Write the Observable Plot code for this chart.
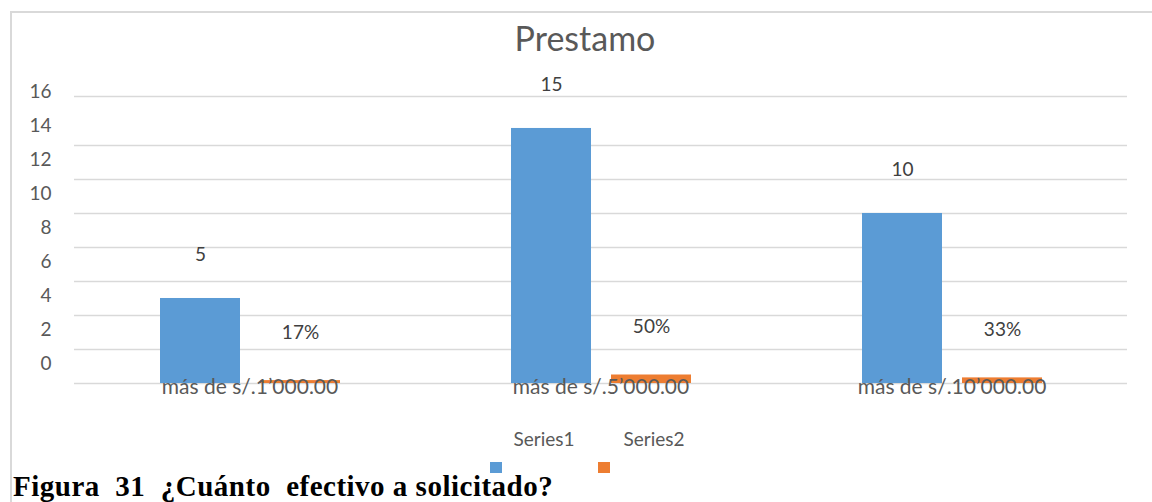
<!DOCTYPE html>
<html>
<head>
<meta charset="utf-8">
<script src="https://cdn.jsdelivr.net/npm/d3@7"></script>
<script src="https://cdn.jsdelivr.net/npm/@observablehq/plot@0.6"></script>
<style>
  html, body { margin: 0; padding: 0; background: #fff; }
  #wrap { position: relative; width: 1152px; height: 502px; overflow: hidden; font-family: Lato, "Open Sans", sans-serif; }
  #frame { position: absolute; left: 10px; top: 11px; width: 1160px; height: 520px; border: 2px solid #d9d9d9; box-sizing: border-box; }
  #title { position: absolute; left: 435px; width: 300px; top: 21px; text-align: center; font-size: 34px; line-height: 34px; color: #595959; }
  #plot { position: absolute; left: 0; top: 0; }
  .legtext { position: absolute; font-size: 19px; line-height: 19px; color: #595959; transform: translateX(-50%); white-space: nowrap; }
  .legsw { position: absolute; width: 12px; height: 11px; }
  #caption { position: absolute; left: 13px; top: 472px; font-family: "Liberation Serif", "Times New Roman", serif; font-weight: bold; font-size: 29px; line-height: 29px; letter-spacing: 0.5px; color: #000; white-space: pre; }
</style>
</head>
<body>
<div id="wrap">
  <div id="frame"></div>
  <div id="plot"></div>
  <div id="title">Prestamo</div>
  <div id="caption">Figura  31  ¿Cuánto  efectivo a solicitado?</div>
</div>
<script>
// ---- data ----
const categories = ["más de s/.1’000.00", "más de s/.5’000.00", "más de s/.10’000.00"];
const series = ["Series1", "Series2"];
const counts = [5, 15, 10];
const shares = [0.17, 0.50, 0.33];
const shareLabels = ["17%", "50%", "33%"];
const yTickValues = [0, 2, 4, 6, 8, 10, 12, 14, 16];
const gridValues = [0, 2, 4, 6, 8, 10, 12, 14];
const yMax = 16.88;
const colors = ["#5b9bd5", "#ed7d31"];

const rows = [];
categories.forEach((c, i) => {
  rows.push({category: c, series: series[0], value: counts[i], label: String(counts[i])});
  rows.push({category: c, series: series[1], value: shares[i], label: shareLabels[i]});
});

const chart = Plot.plot({
  width: 1152,
  height: 502,
  marginLeft: 74,
  marginRight: 25,
  marginTop: 96,
  marginBottom: 119,
  style: {fontFamily: "Lato, 'Open Sans', sans-serif", background: "transparent"},
  fx: {domain: categories, padding: 0, label: null},
  x: {domain: series, paddingInner: 0.2, paddingOuter: 0.855, axis: null},
  y: {domain: [0, yMax], axis: null},
  color: {domain: series, range: colors},
  marks: [
    Plot.ruleY(gridValues.concat([yMax]), {stroke: "#d9d9d9", strokeWidth: 1.5}),
    Plot.barY(rows, {fx: "category", x: "series", y: "value", fill: "series"}),
    Plot.text(rows.filter(d => d.series === series[0]), {fx: "category", x: "series", y: "value", text: "label", dy: -44, fontSize: 19, fill: "#404040"}),
    Plot.text(rows.filter(d => d.series === series[1]), {fx: "category", x: "series", y: "value", text: "label", dy: -48, fontSize: 19, fill: "#404040"}),
    Plot.axisY(yTickValues, {anchor: "left", tickSize: 0, tickPadding: 23, dy: -20, fontSize: 19, fill: "#595959", label: null}),
    Plot.axisFx({anchor: "bottom", tickSize: 0, tickPadding: -4, fontSize: 21, fill: "#595959", label: null, style: {letterSpacing: "0.7px"}})
  ]
});
document.getElementById("plot").appendChild(chart);

// legend built from series/colors
const wrap = document.getElementById("wrap");
const legendTextX = [544, 654];
const legendSwatchX = [490, 598];
series.forEach((s, i) => {
  const t = document.createElement("div");
  t.className = "legtext";
  t.textContent = s;
  t.style.left = legendTextX[i] + "px";
  t.style.top = "429px";
  wrap.appendChild(t);
  const sw = document.createElement("div");
  sw.className = "legsw";
  sw.style.background = colors[i];
  sw.style.left = legendSwatchX[i] + "px";
  sw.style.top = "462px";
  wrap.appendChild(sw);
});
</script>
</body>
</html>
